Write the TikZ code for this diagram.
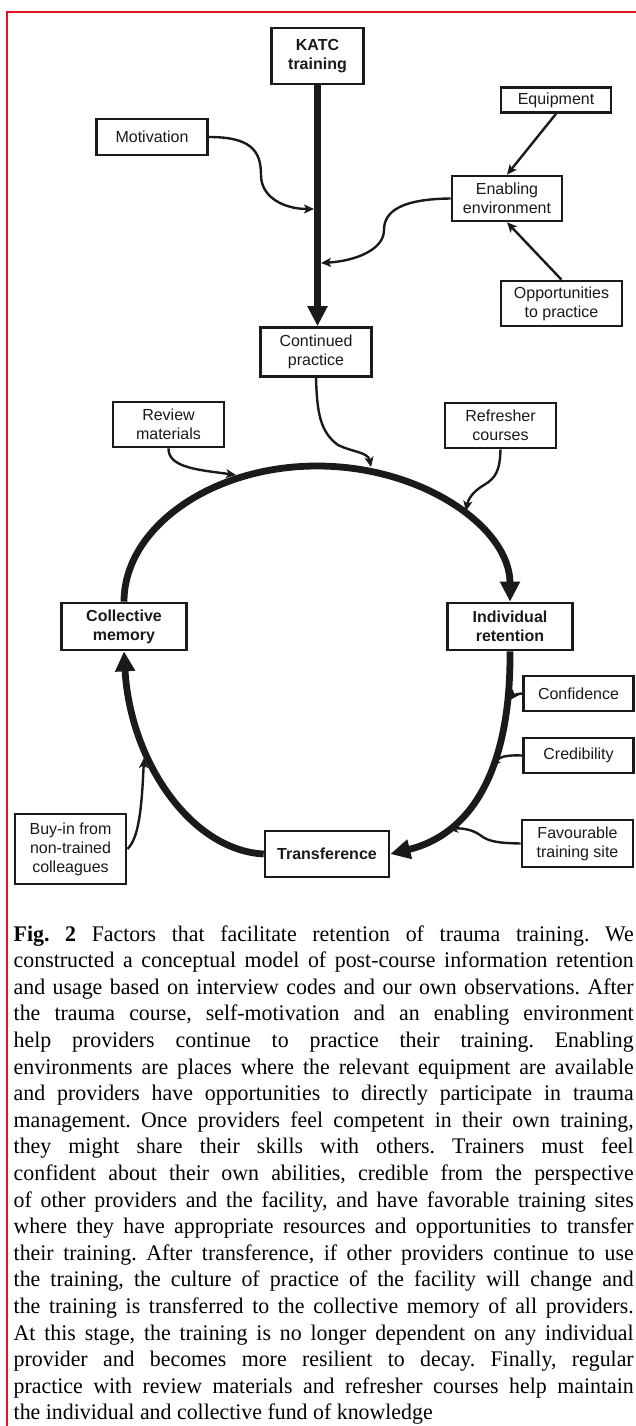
\documentclass[tikz,border=0pt]{standalone}
\usepackage{fontspec}
\setmainfont{Liberation Serif}
\setsansfont{Liberation Sans}
\newfontfamily\capfont{Liberation Serif}[FakeStretch=0.98]
\usetikzlibrary{arrows.meta}
\definecolor{ink}{HTML}{1A1A1A}
\definecolor{frame}{HTML}{E3141B}
\begin{document}
\begin{tikzpicture}[x=1pt,y=-1pt,
  box/.style={draw=ink, line width=2.6pt, fill=white, inner sep=0pt, align=center,
    font=\sffamily\fontsize{16}{19}\selectfont, text=ink},
  boldbox/.style={box, font=\sffamily\bfseries\fontsize{16}{19}\selectfont},
  thinarrow/.style={draw=ink, line width=2.4pt, -{Stealth[length=10pt,width=9pt,inset=2.5pt]}},
  thickarrow/.style={draw=ink, line width=6.8pt, -{Triangle[length=20pt,width=19pt]}},
]
\useasboundingbox (0,0) rectangle (635,1426);
\draw[frame, line width=2pt] (7,1427) -- (7,12) -- (636,12);

% boxes
\node[boldbox, minimum width=92pt, minimum height=56pt] (katc) at (317.5,56) {KATC\\training};
\node[box, minimum width=111pt, minimum height=36pt] (mot) at (152,137) {Motivation};
\node[box, minimum width=110pt, minimum height=25pt] (equip) at (556,100) {Equipment};
\node[box, minimum width=110pt, minimum height=45pt] (enab) at (507,198.5) {Enabling\\environment};
\node[box, minimum width=121pt, minimum height=45pt] (opp) at (561.5,303.5) {Opportunities\\to practice};
\node[box, minimum width=111pt, minimum height=49pt] (cont) at (316,352) {Continued\\practice};
\node[box, minimum width=111pt, minimum height=45pt] (review) at (168.5,424.5) {Review\\materials};
\node[box, minimum width=111pt, minimum height=45pt] (refr) at (500.5,425.5) {Refresher\\courses};
\node[boldbox, minimum width=125pt, minimum height=47pt] (coll) at (124,626.5) {Collective\\memory};
\node[boldbox, minimum width=125pt, minimum height=47pt] (indiv) at (510,626.5) {Individual\\retention};
\node[box, minimum width=110pt, minimum height=35pt] (conf) at (578.5,693.5) {Confidence};
\node[box, minimum width=110pt, minimum height=35pt] (cred) at (578.5,755.5) {Credibility};
\node[box, minimum width=111pt, minimum height=70pt] (buy) at (70.5,849) {Buy-in from\\non-trained\\colleagues};
\node[boldbox, minimum width=124pt, minimum height=46pt] (trans) at (327,854) {Transference};
\node[box, minimum width=111pt, minimum height=47pt] (fav) at (577.5,843.5) {Favourable\\training site};

% main flow
\draw[thickarrow] (katc.south) -- (katc.south |- cont.north);
\draw[thickarrow] (coll.north) .. controls (124,528) and (211,466) .. (317,466)
   .. controls (423,466) and (510,528) .. (indiv.north);
\draw[thickarrow] (indiv.south) .. controls (511,775) and (468,835) .. (trans.east);
\draw[thickarrow] (trans.west) .. controls (190,850) and (130,760) .. (coll.south);

% feeding arrows
\coordinate (m1) at (314,209);
\draw[thinarrow] (mot.east) .. controls (250,137) and (261,150) .. (261,175)
   .. controls (261,198) and (285,209) .. (m1);
\coordinate (e1) at (321,263);
\draw[thinarrow] (enab.west) .. controls (400,199) and (384,212) .. (384,230)
   .. controls (384,250) and (355,261) .. (e1);
\draw[thinarrow] (equip.south) -- (enab.north);
\draw[thinarrow] (opp.north) -- (enab.south);

\coordinate (c1) at (371,467);
\draw[thinarrow] (cont.south) .. controls (317,412) and (320,432) .. (338,445)
   .. controls (352,452) and (368,452) .. (c1);
\coordinate (r1) at (236,475);
\draw[thinarrow] (review.south) .. controls (168,468) and (200,470) .. (r1);
\coordinate (f1) at (466,511);
\draw[thinarrow] (refr.south) .. controls (500,470) and (496,478) .. (484,485)
   .. controls (472,492) and (468,500) .. (f1);

\coordinate (t1) at (510,700);
\draw[thinarrow] (conf.west) .. controls (515,694) and (513,696) .. (t1);
\coordinate (t2) at (491,767);
\draw[thinarrow] (cred.west) .. controls (508,755) and (500,756) .. (t2);
\coordinate (t3) at (448,829);
\draw[thinarrow] (fav.west) .. controls (495,843) and (488,841) .. (480,835)
   .. controls (472,829) and (460,828) .. (t3);
\coordinate (b1) at (144,758);
\draw[thinarrow] (buy.east) .. controls (140,838) and (142,800) .. (b1);

% caption
\node[anchor=base west, inner sep=0pt,
  font={\capfont\fontsize{22.3}{26.6}\selectfont}] (cap) at (13.5,941) {\vtop{%
\hsize=620pt \baselineskip=26.6pt \frenchspacing
\spaceskip=5.5pt plus 14pt minus 1.6pt
\hbox to 620pt{\textbf{Fig.~2} Factors that facilitate retention of trauma training. We}
\hbox to 620pt{constructed a conceptual model of post-course information retention}
\hbox to 620pt{and usage based on interview codes and our own observations. After}
\hbox to 620pt{the trauma course, self-motivation and an enabling environment}
\hbox to 620pt{help providers continue to practice their training. Enabling}
\hbox to 620pt{environments are places where the relevant equipment are available}
\hbox to 620pt{and providers have opportunities to directly participate in trauma}
\hbox to 620pt{management. Once providers feel competent in their own training,}
\hbox to 620pt{they might share their skills with others. Trainers must feel}
\hbox to 620pt{confident about their own abilities, credible from the perspective}
\hbox to 620pt{of other providers and the facility, and have favorable training sites}
\hbox to 620pt{where they have appropriate resources and opportunities to transfer}
\hbox to 620pt{their training. After transference, if other providers continue to use}
\hbox to 620pt{the training, the culture of practice of the facility will change and}
\hbox to 620pt{the training is transferred to the collective memory of all providers.}
\hbox to 620pt{At this stage, the training is no longer dependent on any individual}
\hbox to 620pt{provider and becomes more resilient to decay. Finally, regular}
\hbox to 620pt{practice with review materials and refresher courses help maintain}
\hbox{the individual and collective fund of knowledge}}};
\end{tikzpicture}
\end{document}
